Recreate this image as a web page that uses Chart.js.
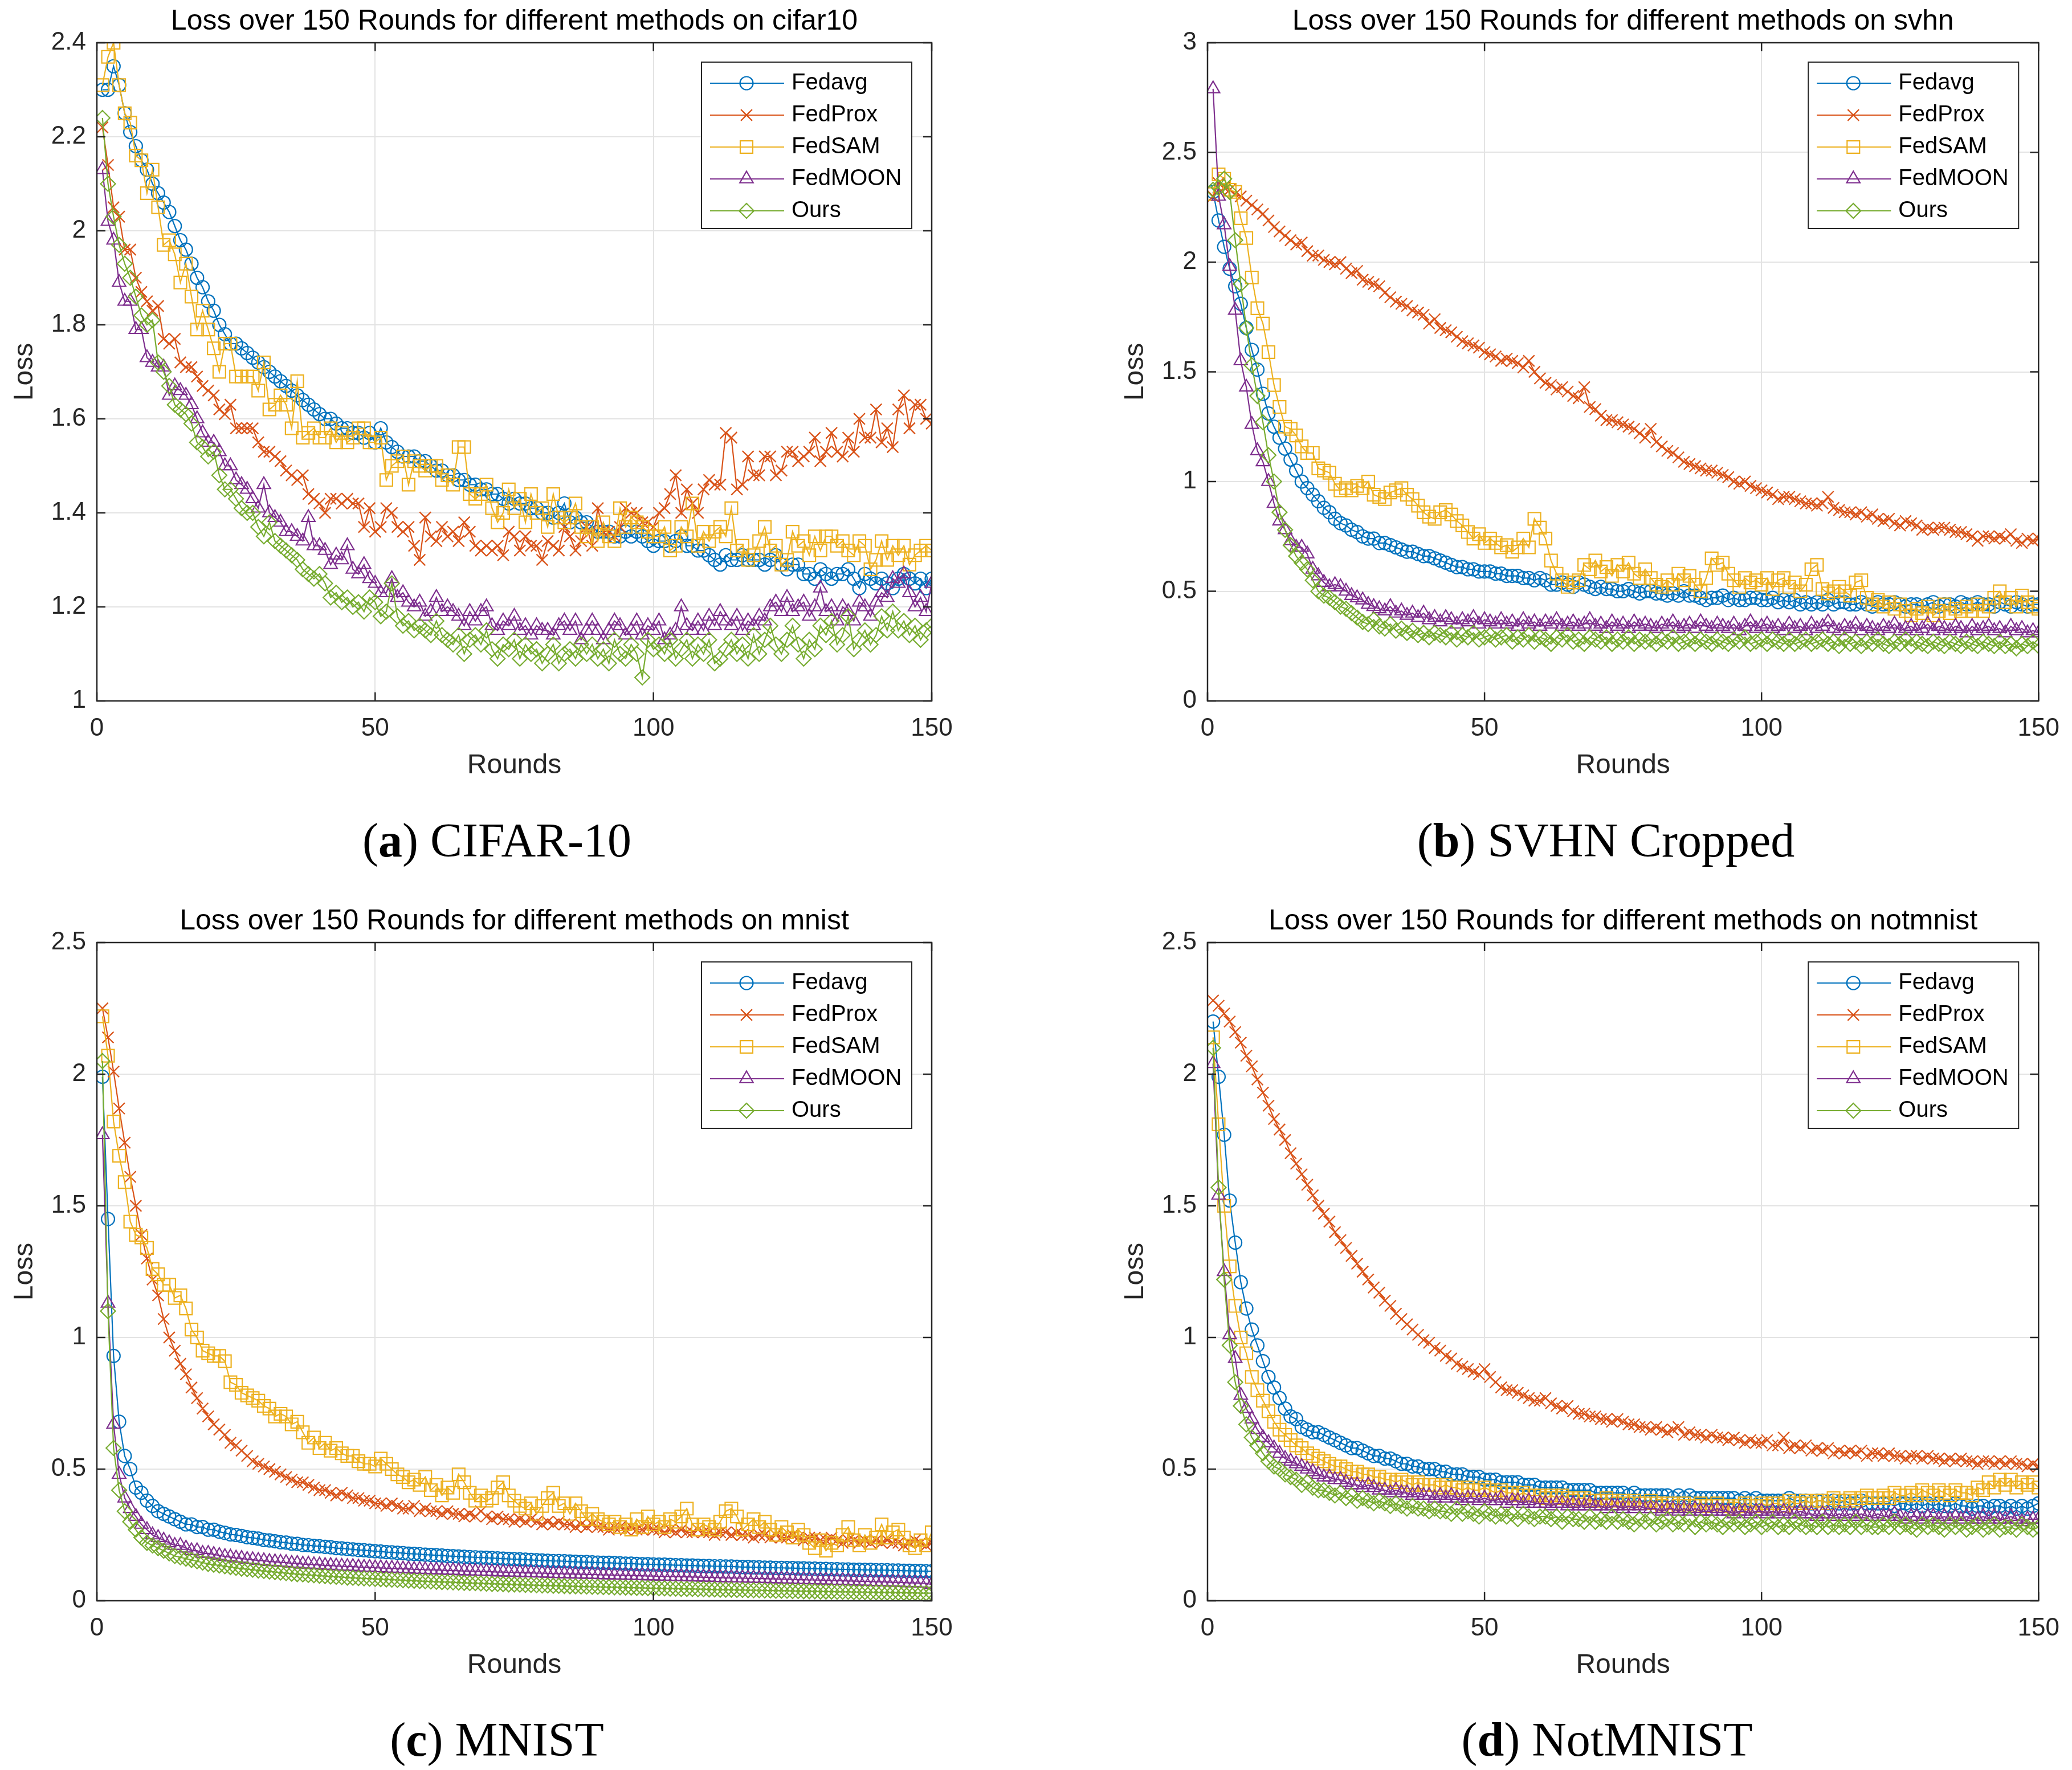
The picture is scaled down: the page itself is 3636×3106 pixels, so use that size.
<!DOCTYPE html>
<html>
<head>
<meta charset="utf-8">
<script src="https://cdn.jsdelivr.net/npm/chart.js@4.4.0/dist/chart.umd.min.js"></script>
<style>
html, body { margin: 0; padding: 0; background: #fff; }
body { width: 3636px; height: 3106px; position: relative; overflow: hidden; }
canvas { position: absolute; }
.legenda-fig { position: absolute; font-family: "Liberation Serif", serif; font-size: 84px; line-height: 1; color: #000; transform: translate(-50%, -50%); white-space: nowrap; }
</style>
</head>
<body>
<canvas id="graficoCifar" width="1818" height="1400" style="left:0px;top:0px"></canvas>
<canvas id="graficoSvhn" width="1818" height="1400" style="left:1818px;top:0px"></canvas>
<canvas id="graficoMnist" width="1818" height="1400" style="left:0px;top:1579px"></canvas>
<canvas id="graficoNotMnist" width="1818" height="1400" style="left:1818px;top:1579px"></canvas>
<div class="legenda-fig" style="left:872px;top:1475px">(<b>a</b>) CIFAR-10</div>
<div class="legenda-fig" style="left:2818px;top:1475px">(<b>b</b>) SVHN Cropped</div>
<div class="legenda-fig" style="left:872px;top:3053px">(<b>c</b>) MNIST</div>
<div class="legenda-fig" style="left:2820px;top:3053px">(<b>d</b>) NotMNIST</div>
<script>
// ------- DADOS -------
const metodos = ['Fedavg', 'FedProx', 'FedSAM', 'FedMOON', 'Ours'];
const rodadas = Array.from({length: 150}, (_, i) => i + 1);
const ticksX = [0, 150, 50];          // min, max, passo
const eixoYCifar = [1, 2.4, 0.2];
const eixoYSvhn = [0, 3, 0.5];
const eixoYMnist = [0, 2.5, 0.5];
const eixoYNotMnist = [0, 2.5, 0.5];

// cifar10
const cifarFedavg = [
2.30,2.30,2.35,2.31,2.25,2.21,2.18,2.15,2.13,2.10,
2.08,2.06,2.04,2.01,1.98,1.96,1.93,1.90,1.88,1.85,
1.83,1.80,1.78,1.76,1.76,1.75,1.74,1.73,1.72,1.71,
1.70,1.69,1.68,1.67,1.66,1.65,1.64,1.63,1.62,1.61,
1.60,1.60,1.59,1.58,1.58,1.57,1.57,1.56,1.57,1.55,
1.58,1.55,1.54,1.53,1.52,1.52,1.52,1.51,1.51,1.50,
1.49,1.49,1.48,1.48,1.47,1.47,1.46,1.46,1.45,1.45,
1.44,1.44,1.43,1.42,1.43,1.42,1.42,1.41,1.41,1.40,
1.40,1.39,1.40,1.42,1.38,1.39,1.38,1.38,1.37,1.36,
1.36,1.36,1.35,1.35,1.36,1.35,1.36,1.35,1.34,1.33,
1.34,1.34,1.33,1.34,1.35,1.33,1.33,1.32,1.32,1.31,
1.30,1.29,1.31,1.30,1.30,1.31,1.30,1.30,1.30,1.29,
1.30,1.31,1.29,1.28,1.29,1.29,1.27,1.27,1.26,1.28,
1.27,1.26,1.27,1.27,1.28,1.26,1.24,1.27,1.26,1.25,
1.26,1.25,1.24,1.26,1.27,1.26,1.25,1.26,1.24,1.26];
const cifarFedProx = [
2.22,2.14,2.05,2.03,1.96,1.96,1.90,1.87,1.85,1.83,
1.84,1.77,1.76,1.77,1.72,1.71,1.71,1.69,1.67,1.66,
1.65,1.62,1.61,1.63,1.58,1.58,1.58,1.58,1.55,1.53,
1.53,1.52,1.51,1.49,1.48,1.47,1.48,1.44,1.43,1.42,
1.40,1.43,1.43,1.42,1.43,1.42,1.42,1.37,1.41,1.36,
1.37,1.41,1.40,1.37,1.36,1.37,1.33,1.30,1.39,1.35,
1.34,1.37,1.35,1.36,1.34,1.38,1.36,1.33,1.32,1.33,
1.32,1.33,1.31,1.36,1.35,1.32,1.35,1.33,1.33,1.30,
1.34,1.33,1.32,1.37,1.35,1.32,1.34,1.37,1.33,1.41,
1.36,1.36,1.35,1.37,1.41,1.40,1.40,1.38,1.38,1.37,
1.40,1.41,1.44,1.48,1.40,1.45,1.42,1.40,1.45,1.47,
1.46,1.46,1.57,1.56,1.45,1.46,1.52,1.48,1.48,1.52,
1.52,1.48,1.49,1.53,1.53,1.51,1.52,1.53,1.56,1.51,
1.53,1.57,1.53,1.52,1.56,1.53,1.60,1.56,1.56,1.62,
1.55,1.58,1.54,1.62,1.65,1.58,1.63,1.63,1.60,1.59];
const cifarFedSAM = [
2.31,2.37,2.40,2.31,2.25,2.23,2.16,2.15,2.08,2.13,
2.05,1.97,1.98,1.95,1.89,1.93,1.86,1.79,1.83,1.79,
1.75,1.70,1.76,1.76,1.69,1.69,1.69,1.69,1.66,1.72,
1.62,1.63,1.65,1.63,1.58,1.68,1.56,1.57,1.58,1.56,
1.56,1.58,1.55,1.57,1.55,1.56,1.58,1.58,1.55,1.55,
1.56,1.47,1.50,1.51,1.52,1.46,1.51,1.50,1.49,1.50,
1.50,1.47,1.48,1.46,1.54,1.54,1.44,1.43,1.44,1.46,
1.41,1.38,1.40,1.45,1.41,1.43,1.38,1.44,1.40,1.41,
1.37,1.44,1.39,1.38,1.39,1.42,1.37,1.35,1.37,1.34,
1.38,1.35,1.34,1.41,1.37,1.39,1.38,1.37,1.36,1.35,
1.35,1.37,1.32,1.33,1.37,1.35,1.42,1.33,1.36,1.34,
1.36,1.37,1.35,1.41,1.32,1.33,1.30,1.31,1.34,1.37,
1.32,1.33,1.29,1.30,1.36,1.33,1.34,1.31,1.35,1.32,
1.35,1.35,1.33,1.34,1.32,1.31,1.34,1.33,1.28,1.30,
1.34,1.30,1.33,1.31,1.33,1.29,1.31,1.32,1.33,1.32];
const cifarFedMOON = [
2.13,2.02,1.98,1.89,1.85,1.85,1.79,1.79,1.73,1.72,
1.71,1.71,1.65,1.67,1.66,1.65,1.63,1.60,1.57,1.55,
1.55,1.53,1.50,1.50,1.47,1.46,1.45,1.43,1.41,1.46,
1.40,1.39,1.38,1.36,1.36,1.35,1.34,1.39,1.33,1.33,
1.32,1.29,1.31,1.30,1.33,1.28,1.27,1.29,1.26,1.25,
1.23,1.23,1.26,1.22,1.23,1.21,1.20,1.21,1.18,1.19,
1.22,1.19,1.20,1.19,1.18,1.16,1.19,1.17,1.19,1.20,
1.16,1.15,1.17,1.16,1.18,1.15,1.16,1.14,1.16,1.15,
1.15,1.14,1.16,1.17,1.15,1.17,1.13,1.15,1.17,1.15,
1.13,1.15,1.17,1.16,1.14,1.15,1.17,1.14,1.16,1.15,
1.17,1.13,1.14,1.15,1.20,1.16,1.15,1.17,1.15,1.18,
1.16,1.19,1.17,1.16,1.18,1.15,1.17,1.16,1.18,1.17,
1.20,1.21,1.19,1.22,1.19,1.20,1.21,1.18,1.20,1.24,
1.19,1.20,1.17,1.20,1.19,1.17,1.21,1.20,1.18,1.21,
1.23,1.22,1.26,1.25,1.27,1.23,1.20,1.22,1.19,1.25];
const cifarOurs = [
2.24,2.10,2.03,1.97,1.93,1.90,1.86,1.82,1.80,1.81,
1.72,1.70,1.67,1.63,1.62,1.61,1.59,1.55,1.54,1.52,
1.53,1.48,1.45,1.45,1.43,1.41,1.40,1.40,1.37,1.35,
1.38,1.34,1.33,1.32,1.31,1.30,1.28,1.27,1.26,1.27,
1.25,1.22,1.23,1.21,1.22,1.20,1.21,1.19,1.22,1.21,
1.18,1.19,1.25,1.18,1.16,1.17,1.15,1.16,1.15,1.14,
1.17,1.14,1.13,1.12,1.14,1.10,1.13,1.14,1.12,1.15,
1.11,1.09,1.12,1.11,1.13,1.09,1.12,1.10,1.11,1.08,
1.10,1.12,1.08,1.10,1.11,1.09,1.12,1.10,1.12,1.09,
1.11,1.08,1.13,1.10,1.09,1.12,1.10,1.05,1.13,1.11,
1.12,1.10,1.13,1.09,1.11,1.13,1.09,1.12,1.10,1.13,
1.08,1.09,1.11,1.13,1.10,1.12,1.09,1.14,1.10,1.13,
1.16,1.12,1.10,1.13,1.16,1.12,1.09,1.13,1.11,1.16,
1.14,1.17,1.12,1.14,1.18,1.11,1.13,1.15,1.12,1.14,
1.18,1.15,1.19,1.15,1.17,1.14,1.16,1.13,1.15,1.16];

// svhn
const svhnFedavg = [
2.32,2.19,2.07,1.97,1.89,1.81,1.70,1.60,1.51,1.40,
1.31,1.25,1.20,1.15,1.10,1.05,1.00,0.97,0.94,0.91,
0.88,0.86,0.83,0.81,0.80,0.78,0.77,0.75,0.74,0.74,
0.72,0.72,0.71,0.70,0.69,0.68,0.68,0.67,0.66,0.66,
0.65,0.64,0.63,0.62,0.61,0.61,0.60,0.60,0.59,0.59,
0.59,0.58,0.58,0.57,0.57,0.57,0.56,0.56,0.55,0.56,
0.55,0.53,0.53,0.54,0.53,0.52,0.54,0.53,0.52,0.51,
0.52,0.51,0.51,0.50,0.50,0.51,0.50,0.49,0.50,0.50,
0.49,0.49,0.48,0.49,0.48,0.50,0.48,0.48,0.47,0.46,
0.47,0.47,0.48,0.46,0.47,0.46,0.46,0.47,0.47,0.46,
0.46,0.47,0.45,0.46,0.45,0.46,0.44,0.45,0.44,0.45,
0.44,0.46,0.44,0.45,0.45,0.44,0.44,0.45,0.44,0.43,
0.45,0.44,0.44,0.45,0.44,0.43,0.44,0.44,0.43,0.44,
0.45,0.43,0.44,0.44,0.43,0.45,0.44,0.44,0.45,0.44,
0.44,0.43,0.45,0.44,0.43,0.45,0.44,0.43,0.44,0.44];
const svhnFedProx = [
2.30,2.36,2.34,2.33,2.31,2.30,2.28,2.26,2.24,2.22,
2.19,2.16,2.14,2.12,2.10,2.08,2.09,2.05,2.03,2.03,
2.01,2.00,1.99,2.00,1.97,1.95,1.96,1.92,1.91,1.90,
1.89,1.86,1.84,1.82,1.81,1.80,1.78,1.77,1.76,1.72,
1.74,1.70,1.69,1.68,1.66,1.64,1.63,1.62,1.61,1.59,
1.58,1.57,1.55,1.56,1.55,1.54,1.52,1.55,1.50,1.47,
1.45,1.44,1.42,1.43,1.41,1.39,1.38,1.43,1.34,1.33,
1.30,1.28,1.28,1.27,1.26,1.25,1.24,1.22,1.20,1.24,
1.18,1.16,1.14,1.13,1.11,1.09,1.08,1.07,1.06,1.05,
1.05,1.04,1.03,1.02,1.00,0.99,1.00,0.98,0.97,0.96,
0.95,0.94,0.92,0.93,0.93,0.92,0.91,0.90,0.90,0.89,
0.90,0.93,0.88,0.87,0.86,0.86,0.85,0.86,0.84,0.85,
0.83,0.82,0.83,0.81,0.80,0.82,0.81,0.80,0.78,0.79,
0.78,0.79,0.79,0.78,0.77,0.77,0.76,0.75,0.73,0.75,
0.75,0.74,0.75,0.74,0.76,0.73,0.72,0.74,0.73,0.74];
const svhnFedSAM = [
2.31,2.40,2.38,2.33,2.32,2.20,2.11,1.93,1.79,1.72,
1.59,1.44,1.34,1.25,1.24,1.21,1.16,1.13,1.13,1.06,
1.05,1.04,0.99,0.96,0.97,0.96,0.98,0.97,1.00,0.94,
0.93,0.92,0.95,0.96,0.97,0.94,0.92,0.89,0.86,0.84,
0.83,0.86,0.87,0.85,0.82,0.80,0.77,0.74,0.76,0.72,
0.74,0.72,0.70,0.71,0.68,0.70,0.74,0.70,0.83,0.79,
0.74,0.64,0.58,0.55,0.52,0.54,0.55,0.62,0.60,0.64,
0.59,0.61,0.57,0.62,0.59,0.63,0.58,0.56,0.60,0.56,
0.53,0.52,0.55,0.53,0.58,0.55,0.57,0.53,0.50,0.56,
0.65,0.62,0.63,0.58,0.55,0.52,0.56,0.54,0.55,0.53,
0.56,0.51,0.55,0.56,0.52,0.54,0.50,0.53,0.60,0.62,
0.51,0.49,0.50,0.52,0.50,0.48,0.54,0.55,0.47,0.44,
0.46,0.43,0.45,0.42,0.44,0.41,0.39,0.42,0.40,0.43,
0.39,0.41,0.44,0.40,0.42,0.41,0.43,0.41,0.44,0.41,
0.43,0.47,0.50,0.45,0.47,0.43,0.48,0.45,0.43,0.42];
const svhnFedMOON = [
2.79,2.30,2.17,1.98,1.78,1.55,1.43,1.26,1.14,1.09,
1.00,0.90,0.82,0.78,0.73,0.70,0.70,0.67,0.60,0.57,
0.54,0.52,0.53,0.52,0.50,0.48,0.47,0.46,0.44,0.43,
0.42,0.41,0.43,0.40,0.41,0.39,0.40,0.38,0.40,0.37,
0.38,0.36,0.38,0.37,0.35,0.37,0.36,0.38,0.35,0.37,
0.36,0.35,0.37,0.35,0.36,0.34,0.37,0.35,0.36,0.34,
0.36,0.35,0.37,0.34,0.35,0.36,0.34,0.35,0.37,0.34,
0.35,0.33,0.36,0.34,0.35,0.33,0.36,0.34,0.35,0.34,
0.33,0.35,0.34,0.36,0.33,0.34,0.35,0.33,0.36,0.34,
0.33,0.35,0.34,0.33,0.35,0.32,0.34,0.36,0.33,0.34,
0.35,0.33,0.34,0.32,0.35,0.33,0.34,0.32,0.35,0.33,
0.34,0.36,0.33,0.32,0.34,0.33,0.35,0.32,0.34,0.33,
0.32,0.34,0.33,0.35,0.32,0.33,0.34,0.32,0.33,0.35,
0.32,0.34,0.33,0.32,0.34,0.33,0.31,0.34,0.32,0.33,
0.34,0.32,0.33,0.31,0.34,0.32,0.33,0.31,0.32,0.31];
const svhnOurs = [
2.33,2.34,2.38,2.32,2.10,1.90,1.70,1.53,1.39,1.27,
1.12,1.00,0.86,0.78,0.71,0.66,0.63,0.60,0.55,0.50,
0.48,0.47,0.45,0.43,0.42,0.40,0.38,0.36,0.35,0.37,
0.34,0.33,0.35,0.32,0.33,0.31,0.32,0.30,0.31,0.29,
0.31,0.30,0.29,0.31,0.28,0.30,0.29,0.31,0.28,0.29,
0.30,0.28,0.29,0.30,0.27,0.29,0.28,0.30,0.27,0.29,
0.28,0.26,0.29,0.28,0.30,0.27,0.28,0.26,0.29,0.28,
0.27,0.29,0.26,0.28,0.27,0.29,0.26,0.28,0.27,0.28,
0.26,0.28,0.27,0.29,0.26,0.27,0.28,0.26,0.28,0.27,
0.26,0.28,0.27,0.26,0.28,0.27,0.29,0.26,0.27,0.28,
0.26,0.28,0.27,0.26,0.28,0.26,0.27,0.28,0.26,0.27,
0.28,0.26,0.27,0.25,0.28,0.26,0.27,0.25,0.27,0.26,
0.28,0.26,0.25,0.27,0.26,0.28,0.25,0.27,0.26,0.25,
0.27,0.26,0.25,0.27,0.26,0.25,0.27,0.26,0.25,0.27,
0.26,0.25,0.27,0.25,0.26,0.24,0.26,0.25,0.27,0.25];

// mnist
const mnistFedavg = [
1.99,1.45,0.93,0.68,0.55,0.50,0.43,0.41,0.38,0.36,
0.34,0.33,0.32,0.31,0.30,0.29,0.29,0.28,0.28,0.27,
0.270,0.262,0.258,0.252,0.250,0.246,0.241,0.239,0.236,0.231,
0.229,0.226,0.222,0.221,0.217,0.216,0.212,0.211,0.208,0.207,
0.205,0.203,0.200,0.199,0.197,0.195,0.193,0.192,0.190,0.188,
0.187,0.185,0.184,0.182,0.181,0.179,0.178,0.177,0.175,0.174,
0.173,0.172,0.170,0.169,0.168,0.167,0.166,0.165,0.164,0.163,
0.162,0.161,0.160,0.159,0.158,0.157,0.156,0.155,0.154,0.153,
0.152,0.151,0.151,0.150,0.149,0.148,0.147,0.147,0.146,0.145,
0.144,0.144,0.143,0.142,0.141,0.141,0.140,0.139,0.139,0.138,
0.137,0.137,0.136,0.135,0.135,0.134,0.134,0.133,0.132,0.132,
0.131,0.131,0.130,0.130,0.129,0.128,0.128,0.127,0.127,0.126,
0.126,0.125,0.125,0.124,0.124,0.123,0.123,0.122,0.122,0.121,
0.121,0.120,0.120,0.119,0.119,0.118,0.118,0.117,0.117,0.116,
0.116,0.116,0.115,0.115,0.114,0.114,0.113,0.113,0.112,0.112];
const mnistFedProx = [
2.25,2.14,2.01,1.87,1.74,1.61,1.50,1.39,1.30,1.22,
1.16,1.07,1.00,0.95,0.90,0.86,0.81,0.77,0.73,0.70,
0.67,0.65,0.63,0.60,0.59,0.57,0.55,0.53,0.52,0.51,
0.50,0.49,0.48,0.47,0.46,0.45,0.45,0.44,0.43,0.42,
0.42,0.41,0.40,0.41,0.40,0.39,0.39,0.38,0.38,0.37,
0.37,0.36,0.37,0.36,0.35,0.35,0.36,0.34,0.35,0.34,
0.34,0.33,0.34,0.33,0.33,0.32,0.33,0.32,0.34,0.32,
0.31,0.32,0.31,0.31,0.30,0.31,0.30,0.31,0.30,0.29,
0.30,0.29,0.30,0.29,0.29,0.28,0.29,0.28,0.29,0.28,
0.28,0.27,0.28,0.28,0.27,0.28,0.27,0.27,0.28,0.27,
0.27,0.26,0.27,0.26,0.27,0.26,0.26,0.27,0.26,0.26,
0.25,0.26,0.26,0.25,0.26,0.25,0.25,0.24,0.25,0.25,
0.24,0.25,0.24,0.24,0.25,0.24,0.23,0.24,0.24,0.23,
0.23,0.24,0.23,0.22,0.23,0.23,0.22,0.23,0.22,0.23,
0.22,0.23,0.22,0.22,0.21,0.22,0.23,0.22,0.21,0.22];
const mnistFedSAM = [
2.22,2.07,1.82,1.69,1.59,1.44,1.39,1.38,1.34,1.26,
1.24,1.20,1.20,1.15,1.16,1.11,1.03,1.00,0.95,0.94,
0.93,0.93,0.91,0.83,0.82,0.79,0.78,0.77,0.76,0.74,
0.73,0.70,0.71,0.70,0.67,0.68,0.64,0.60,0.62,0.58,
0.60,0.57,0.58,0.56,0.55,0.55,0.53,0.52,0.52,0.51,
0.54,0.52,0.50,0.48,0.47,0.45,0.46,0.44,0.47,0.42,
0.44,0.40,0.43,0.41,0.48,0.45,0.41,0.38,0.40,0.38,
0.39,0.43,0.45,0.40,0.38,0.36,0.35,0.37,0.33,0.36,
0.39,0.41,0.36,0.37,0.33,0.37,0.34,0.31,0.33,0.31,
0.30,0.29,0.30,0.28,0.29,0.27,0.31,0.28,0.32,0.29,
0.30,0.28,0.31,0.30,0.32,0.35,0.29,0.27,0.29,0.28,
0.27,0.30,0.34,0.35,0.32,0.27,0.29,0.31,0.28,0.30,
0.27,0.25,0.28,0.26,0.24,0.27,0.25,0.22,0.20,0.23,
0.19,0.22,0.21,0.25,0.28,0.23,0.21,0.25,0.22,0.24,
0.29,0.24,0.26,0.27,0.24,0.21,0.20,0.23,0.21,0.26];
const mnistFedMOON = [
1.77,1.13,0.67,0.48,0.39,0.35,0.32,0.29,0.27,0.25,
0.24,0.23,0.22,0.21,0.21,0.20,0.19,0.19,0.18,0.18,
0.176,0.172,0.168,0.166,0.162,0.161,0.157,0.156,0.153,0.152,
0.149,0.148,0.146,0.145,0.142,0.142,0.139,0.139,0.137,0.136,
0.134,0.134,0.132,0.131,0.130,0.130,0.128,0.127,0.127,0.125,
0.125,0.123,0.123,0.122,0.121,0.121,0.119,0.119,0.118,0.117,
0.117,0.116,0.115,0.115,0.114,0.113,0.113,0.112,0.111,0.111,
0.110,0.109,0.109,0.108,0.108,0.107,0.106,0.106,0.105,0.105,
0.104,0.103,0.103,0.102,0.102,0.101,0.101,0.100,0.100,0.099,
0.098,0.098,0.097,0.097,0.096,0.096,0.095,0.095,0.094,0.094,
0.093,0.093,0.092,0.092,0.091,0.091,0.090,0.090,0.089,0.089,
0.088,0.088,0.087,0.087,0.086,0.086,0.085,0.085,0.084,0.084,
0.083,0.083,0.082,0.082,0.081,0.080,0.080,0.079,0.079,0.078,
0.078,0.077,0.077,0.076,0.075,0.075,0.074,0.074,0.073,0.072,
0.072,0.071,0.070,0.070,0.069,0.068,0.068,0.067,0.066,0.062];
const mnistOurs = [
2.05,1.10,0.58,0.42,0.34,0.30,0.27,0.24,0.22,0.21,
0.20,0.19,0.18,0.17,0.165,0.16,0.155,0.15,0.145,0.14,
0.137,0.134,0.131,0.128,0.125,0.122,0.120,0.118,0.115,0.113,
0.111,0.109,0.107,0.105,0.103,0.101,0.100,0.098,0.097,0.095,
0.094,0.092,0.091,0.090,0.088,0.087,0.086,0.085,0.084,0.083,
0.082,0.081,0.080,0.079,0.078,0.077,0.076,0.075,0.074,0.073,
0.072,0.071,0.071,0.070,0.069,0.068,0.067,0.067,0.066,0.065,
0.064,0.064,0.063,0.062,0.062,0.061,0.060,0.060,0.059,0.058,
0.058,0.057,0.057,0.056,0.055,0.055,0.054,0.054,0.053,0.053,
0.052,0.052,0.051,0.051,0.050,0.050,0.049,0.049,0.048,0.048,
0.047,0.047,0.046,0.046,0.045,0.045,0.045,0.044,0.044,0.043,
0.043,0.042,0.042,0.042,0.041,0.041,0.040,0.040,0.040,0.039,
0.039,0.038,0.038,0.038,0.037,0.037,0.036,0.036,0.036,0.035,
0.035,0.035,0.034,0.034,0.034,0.033,0.033,0.033,0.032,0.032,
0.032,0.031,0.031,0.031,0.030,0.030,0.030,0.029,0.029,0.029];

// notmnist
const notmnistFedavg = [
2.20,1.99,1.77,1.52,1.36,1.21,1.11,1.03,0.97,0.91,
0.85,0.81,0.77,0.73,0.70,0.69,0.66,0.65,0.64,0.64,
0.63,0.62,0.61,0.60,0.59,0.58,0.58,0.57,0.56,0.55,
0.55,0.54,0.54,0.53,0.52,0.52,0.51,0.51,0.50,0.50,
0.50,0.49,0.49,0.48,0.48,0.48,0.47,0.47,0.47,0.46,
0.46,0.46,0.45,0.45,0.45,0.45,0.44,0.44,0.44,0.43,
0.43,0.43,0.43,0.43,0.42,0.42,0.42,0.42,0.42,0.41,
0.41,0.41,0.41,0.41,0.41,0.40,0.41,0.40,0.40,0.40,
0.40,0.40,0.40,0.39,0.40,0.39,0.40,0.39,0.39,0.39,
0.39,0.39,0.39,0.39,0.39,0.38,0.39,0.38,0.39,0.38,
0.38,0.38,0.38,0.38,0.39,0.38,0.38,0.38,0.37,0.38,
0.38,0.37,0.38,0.37,0.38,0.37,0.37,0.38,0.37,0.37,
0.37,0.37,0.37,0.36,0.37,0.37,0.36,0.37,0.36,0.37,
0.36,0.37,0.36,0.36,0.37,0.36,0.36,0.35,0.36,0.36,
0.35,0.36,0.36,0.35,0.36,0.35,0.36,0.35,0.36,0.37];
const notmnistFedProx = [
2.28,2.26,2.23,2.20,2.16,2.12,2.07,2.03,1.98,1.93,
1.88,1.83,1.79,1.75,1.70,1.66,1.62,1.58,1.54,1.50,
1.47,1.44,1.40,1.37,1.34,1.31,1.28,1.25,1.22,1.19,
1.17,1.14,1.12,1.09,1.07,1.05,1.03,1.01,0.99,0.98,
0.96,0.95,0.93,0.92,0.90,0.89,0.88,0.87,0.86,0.88,
0.85,0.83,0.81,0.80,0.80,0.79,0.78,0.77,0.76,0.76,
0.77,0.75,0.74,0.73,0.74,0.72,0.71,0.71,0.70,0.70,
0.69,0.69,0.68,0.69,0.68,0.67,0.67,0.66,0.66,0.65,
0.66,0.65,0.64,0.65,0.66,0.63,0.64,0.63,0.63,0.62,
0.63,0.62,0.62,0.61,0.62,0.61,0.60,0.61,0.60,0.60,
0.61,0.59,0.59,0.62,0.58,0.59,0.58,0.59,0.57,0.58,
0.57,0.58,0.56,0.57,0.56,0.57,0.56,0.57,0.55,0.56,
0.56,0.55,0.56,0.55,0.55,0.54,0.55,0.55,0.54,0.55,
0.54,0.54,0.53,0.54,0.53,0.54,0.53,0.53,0.52,0.53,
0.53,0.52,0.53,0.52,0.53,0.52,0.52,0.51,0.52,0.51];
const notmnistFedSAM = [
2.14,1.81,1.50,1.27,1.12,1.00,0.94,0.85,0.80,0.76,
0.72,0.68,0.65,0.63,0.61,0.59,0.58,0.56,0.55,0.54,
0.53,0.52,0.51,0.51,0.50,0.49,0.49,0.48,0.48,0.47,
0.47,0.46,0.46,0.45,0.46,0.45,0.44,0.45,0.44,0.44,
0.44,0.43,0.44,0.43,0.43,0.42,0.43,0.42,0.42,0.43,
0.42,0.41,0.42,0.41,0.41,0.40,0.41,0.40,0.40,0.40,
0.39,0.40,0.39,0.40,0.39,0.38,0.39,0.39,0.38,0.38,
0.38,0.39,0.38,0.37,0.38,0.37,0.38,0.37,0.37,0.38,
0.37,0.36,0.37,0.37,0.36,0.37,0.36,0.36,0.37,0.36,
0.36,0.37,0.36,0.36,0.35,0.36,0.37,0.36,0.36,0.37,
0.36,0.37,0.37,0.36,0.38,0.37,0.37,0.38,0.37,0.38,
0.38,0.37,0.39,0.38,0.38,0.39,0.38,0.39,0.40,0.39,
0.39,0.40,0.39,0.41,0.40,0.40,0.41,0.40,0.42,0.41,
0.40,0.42,0.41,0.40,0.42,0.41,0.41,0.40,0.43,0.42,
0.45,0.43,0.46,0.44,0.46,0.43,0.45,0.44,0.45,0.43];
const notmnistFedMOON = [
2.04,1.54,1.25,1.01,0.92,0.78,0.73,0.69,0.65,0.62,
0.60,0.58,0.56,0.54,0.53,0.52,0.51,0.50,0.49,0.48,
0.47,0.47,0.46,0.46,0.45,0.44,0.44,0.43,0.44,0.43,
0.42,0.42,0.41,0.42,0.41,0.41,0.40,0.41,0.40,0.40,
0.39,0.40,0.39,0.40,0.39,0.38,0.39,0.39,0.38,0.39,
0.38,0.38,0.39,0.37,0.38,0.38,0.37,0.38,0.37,0.37,
0.37,0.36,0.37,0.37,0.36,0.37,0.36,0.36,0.37,0.36,
0.36,0.35,0.36,0.36,0.35,0.36,0.35,0.36,0.35,0.35,
0.35,0.34,0.35,0.35,0.34,0.35,0.34,0.35,0.34,0.34,
0.34,0.35,0.34,0.34,0.33,0.34,0.34,0.33,0.34,0.34,
0.33,0.34,0.33,0.34,0.33,0.33,0.34,0.33,0.33,0.32,
0.33,0.33,0.32,0.33,0.32,0.33,0.32,0.33,0.32,0.32,
0.33,0.32,0.32,0.33,0.32,0.31,0.32,0.32,0.31,0.32,
0.32,0.31,0.32,0.31,0.32,0.31,0.32,0.31,0.31,0.32,
0.31,0.32,0.31,0.31,0.32,0.31,0.30,0.31,0.31,0.31];
const notmnistOurs = [
2.10,1.57,1.22,0.97,0.83,0.74,0.67,0.62,0.59,0.56,
0.53,0.51,0.50,0.48,0.47,0.46,0.44,0.45,0.43,0.42,
0.42,0.41,0.40,0.41,0.39,0.40,0.38,0.39,0.38,0.37,
0.38,0.37,0.36,0.37,0.36,0.35,0.36,0.35,0.35,0.34,
0.35,0.34,0.34,0.33,0.35,0.33,0.34,0.33,0.32,0.34,
0.33,0.32,0.33,0.32,0.33,0.31,0.33,0.32,0.31,0.32,
0.32,0.31,0.32,0.30,0.32,0.31,0.31,0.30,0.32,0.30,
0.31,0.30,0.32,0.30,0.31,0.30,0.29,0.31,0.30,0.31,
0.29,0.30,0.31,0.29,0.30,0.29,0.31,0.28,0.30,0.29,
0.30,0.29,0.28,0.30,0.29,0.30,0.28,0.29,0.30,0.28,
0.29,0.30,0.28,0.29,0.28,0.30,0.29,0.28,0.29,0.28,
0.30,0.28,0.29,0.28,0.29,0.28,0.30,0.28,0.29,0.28,
0.28,0.29,0.28,0.30,0.28,0.29,0.28,0.27,0.29,0.28,
0.29,0.28,0.27,0.29,0.28,0.29,0.27,0.28,0.29,0.27,
0.28,0.29,0.27,0.28,0.28,0.27,0.29,0.28,0.27,0.28];

// ------- ESTILO -------
const coresMetodos = ['#0072BD', '#D95319', '#EDB120', '#7E2F8E', '#77AC30'];
const marcadores = ['circle', 'crossRot', 'rect', 'triangle', 'rectRot'];
const raiosMarcador = [11.5, 14, 15.5, 13.5, 13];   // chart.js mede cada forma de um jeito
const FONTE = 'Liberation Sans';
const COR_EIXO = '#262626';
const ESPESSURA = 2.2;

Chart.defaults.font.family = FONTE;
Chart.defaults.color = COR_EIXO;

// titulo centrado na area do grafico (o do chart.js centra no canvas)
const tituloCentrado = {
    id: 'tituloCentrado',
    afterDraw(chart, args, opcoes) {
        const {ctx, chartArea} = chart;
        ctx.save();
        ctx.fillStyle = '#000';
        ctx.font = '50px "' + FONTE + '"';
        ctx.textAlign = 'center';
        ctx.textBaseline = 'middle';
        ctx.fillText(opcoes.texto, (chartArea.left + chartArea.right) / 2, chartArea.top - 37);
        ctx.restore();
    }
};

// moldura da caixa + tracinhos para dentro (box on do matlab)
const molduraEixos = {
    id: 'molduraEixos',
    afterDatasetsDraw(chart) {
        const {ctx, chartArea, scales} = chart;
        const {left, right, top, bottom} = chartArea;
        ctx.save();
        ctx.strokeStyle = COR_EIXO;
        ctx.lineWidth = 2.5;
        ctx.beginPath();
        scales.x.ticks.forEach(t => {
            const px = scales.x.getPixelForValue(t.value);
            ctx.moveTo(px, bottom); ctx.lineTo(px, bottom - 15);
            ctx.moveTo(px, top); ctx.lineTo(px, top + 15);
        });
        scales.y.ticks.forEach(t => {
            const py = scales.y.getPixelForValue(t.value);
            ctx.moveTo(left, py); ctx.lineTo(left + 15, py);
            ctx.moveTo(right, py); ctx.lineTo(right - 15, py);
        });
        ctx.stroke();
        ctx.strokeRect(left, top, right - left, bottom - top);
        ctx.restore();
    }
};

// legenda dentro do grafico, canto superior direito
const legendaInterna = {
    id: 'legendaInterna',
    afterDraw(chart) {
        const {ctx, chartArea} = chart;
        const larg = 369, alt = 292;
        const x0 = chartArea.right - 35 - larg;
        const y0 = chartArea.top + 34;
        ctx.save();
        ctx.fillStyle = '#fff';
        ctx.fillRect(x0, y0, larg, alt);
        ctx.strokeStyle = COR_EIXO;
        ctx.lineWidth = 2;
        ctx.strokeRect(x0, y0, larg, alt);
        chart.data.datasets.forEach((ds, i) => {
            const cy = y0 + 37 + i * 56;
            ctx.strokeStyle = ds.borderColor;
            ctx.lineWidth = ESPESSURA;
            ctx.beginPath();
            ctx.moveTo(x0 + 15, cy);
            ctx.lineTo(x0 + 145, cy);
            ctx.stroke();
            ctx.fillStyle = 'rgba(0,0,0,0)';
            Chart.helpers.drawPoint(ctx, {pointStyle: ds.pointStyle, radius: ds.pointRadius, borderWidth: ESPESSURA, rotation: 0}, x0 + 79, cy);
            ctx.fillStyle = '#000';
            ctx.font = '40px "' + FONTE + '"';
            ctx.textBaseline = 'middle';
            ctx.textAlign = 'left';
            ctx.fillText(ds.label, x0 + 158, cy);
        });
        ctx.restore();
    }
};

function montarGrafico(idCanvas, titulo, series, eixoY, margemEsq, margemDir) {
    const datasets = series.map((valores, i) => ({
        label: metodos[i],
        data: valores.map((v, j) => ({x: rodadas[j], y: v})),
        borderColor: coresMetodos[i],
        backgroundColor: 'rgba(0,0,0,0)',
        pointBorderColor: coresMetodos[i],
        pointBackgroundColor: 'rgba(0,0,0,0)',
        pointStyle: marcadores[i],
        pointRadius: raiosMarcador[i],
        pointBorderWidth: ESPESSURA,
        borderWidth: ESPESSURA,
        tension: 0,
        order: series.length - i
    }));
    return new Chart(document.getElementById(idCanvas), {
        type: 'line',
        data: {datasets},
        options: {
            responsive: false,
            animation: false,
            devicePixelRatio: 1,
            layout: {padding: {left: margemEsq, right: margemDir, top: 75, bottom: 0}},
            plugins: {
                legend: {display: false},
                tooltip: {enabled: false},
                title: {display: false},
                tituloCentrado: {texto: titulo}
            },
            scales: {
                x: {
                    type: 'linear',
                    min: ticksX[0], max: ticksX[1],
                    ticks: {stepSize: ticksX[2], font: {size: 44}, color: COR_EIXO, padding: 22, maxRotation: 0},
                    grid: {color: '#e3e3e3', lineWidth: 2, drawTicks: false},
                    border: {display: false},
                    title: {display: true, text: 'Rounds', color: COR_EIXO, font: {size: 48}, padding: {top: 0, bottom: 27}},
                    afterFit(escala) { escala.height = 170; }
                },
                y: {
                    min: eixoY[0], max: eixoY[1],
                    ticks: {
                        stepSize: eixoY[2], font: {size: 44}, color: COR_EIXO, padding: 19,
                        callback: valor => String(+valor.toFixed(2))
                    },
                    grid: {color: '#e3e3e3', lineWidth: 2, drawTicks: false},
                    border: {display: false},
                    title: {display: true, text: 'Loss', color: COR_EIXO, font: {size: 48}, padding: {top: 15, bottom: 0}},
                    afterFit(escala) { escala.width = 170; }
                }
            }
        },
        plugins: [molduraEixos, legendaInterna, tituloCentrado]
    });
}

//------- GRÁFICOS -------
montarGrafico('graficoCifar', 'Loss over 150 Rounds for different methods on cifar10',
    [cifarFedavg, cifarFedProx, cifarFedSAM, cifarFedMOON, cifarOurs], eixoYCifar, 0, 183);
montarGrafico('graficoSvhn', 'Loss over 150 Rounds for different methods on svhn',
    [svhnFedavg, svhnFedProx, svhnFedSAM, svhnFedMOON, svhnOurs], eixoYSvhn, 131, 52);
montarGrafico('graficoMnist', 'Loss over 150 Rounds for different methods on mnist',
    [mnistFedavg, mnistFedProx, mnistFedSAM, mnistFedMOON, mnistOurs], eixoYMnist, 0, 183);
montarGrafico('graficoNotMnist', 'Loss over 150 Rounds for different methods on notmnist',
    [notmnistFedavg, notmnistFedProx, notmnistFedSAM, notmnistFedMOON, notmnistOurs], eixoYNotMnist, 131, 52);
</script>
</body>
</html>
